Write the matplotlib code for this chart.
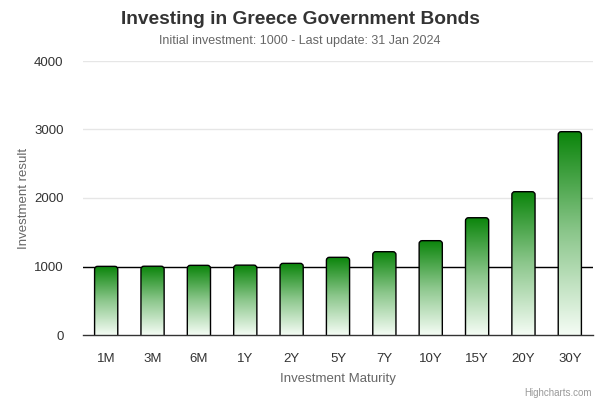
import matplotlib
matplotlib.use("Agg")
import matplotlib.pyplot as plt
import numpy as np
from matplotlib.patches import FancyBboxPatch
from matplotlib.colors import LinearSegmentedColormap

plt.rcParams['font.family'] = ['Liberation Sans', 'DejaVu Sans']

categories = ["1M", "3M", "6M", "1Y", "2Y", "5Y", "7Y", "10Y", "15Y", "20Y", "30Y"]
values = [1002, 1004, 1017, 1020, 1046, 1134, 1216, 1377, 1712, 2092, 2968]
yticks = [0, 1000, 2000, 3000, 4000]
initial = 1000

fig = plt.figure(figsize=(6, 4), dpi=100)
ax = fig.add_axes([83/600, 65/400, 510/600, 274/400])
n = len(categories)
ax.set_xlim(-0.5, n - 0.5)
ax.set_ylim(0, 4000)

cmap = LinearSegmentedColormap.from_list("g", [(0.96, 0.99, 0.96), (0.55, 0.78, 0.55), (0.04, 0.52, 0.04)])
grad = np.linspace(0, 1, 256).reshape(-1, 1)

bw = 0.5
xpp = (n) / 510.0
ypp = 4000 / 274.0
r = 3 * xpp
for i, v in enumerate(values):
    x0 = i - bw / 2
    p = FancyBboxPatch((x0, -300), bw, v + 300,
                       boxstyle=f"round,pad=0,rounding_size={r}",
                       mutation_aspect=ypp / xpp,
                       facecolor="none", edgecolor="black", linewidth=1.0, zorder=4)
    ax.add_patch(p)
    im = ax.imshow(grad, extent=[x0, x0 + bw, 0, v], origin="lower", cmap=cmap,
                   aspect="auto", zorder=3, interpolation="bilinear")
    im.set_clip_path(p)

ax.set_xlim(-0.5, n - 0.5)
ax.set_ylim(0, 4000)

for t in yticks[1:]:
    ax.axhline(t, color="#e6e6e6", lw=1, zorder=1)
ax.axhline(initial, color="black", lw=1, zorder=2)

ax.set_yticks(yticks)
ax.set_xticks(range(n))
ax.set_xticklabels(categories)
ax.tick_params(axis="y", length=0, pad=14, labelsize=9.5, labelcolor="#333333")
ax.tick_params(axis="x", length=0, pad=13, labelsize=9.5, labelcolor="#333333")

for s in ["top", "right", "left"]:
    ax.spines[s].set_visible(False)
ax.spines["bottom"].set_color("#333333")
ax.spines["bottom"].set_linewidth(1)
ax.spines["bottom"].set_zorder(5)

ax.set_xlabel("Investment Maturity", fontsize=9.5, color="#666666", labelpad=6)
ax.set_ylabel("Investment result", fontsize=9.5, color="#666666", va="center")
ax.yaxis.set_label_coords((24 - 83) / 510, 0.5)

fig.text(0.5, 1 - 19/400, "Investing in Greece Government Bonds", ha="center", va="center",
         fontsize=13.8, fontweight="bold", color="#333333")
fig.text(0.5, 1 - 41/400, "Initial investment: 1000 - Last update: 31 Jan 2024", ha="center",
         va="center", fontsize=9, color="#666666")
fig.text(592/600, 1 - 393/400, "Highcharts.com", ha="right", va="center", fontsize=7, color="#999999")

fig.savefig("out.png", dpi=100)
